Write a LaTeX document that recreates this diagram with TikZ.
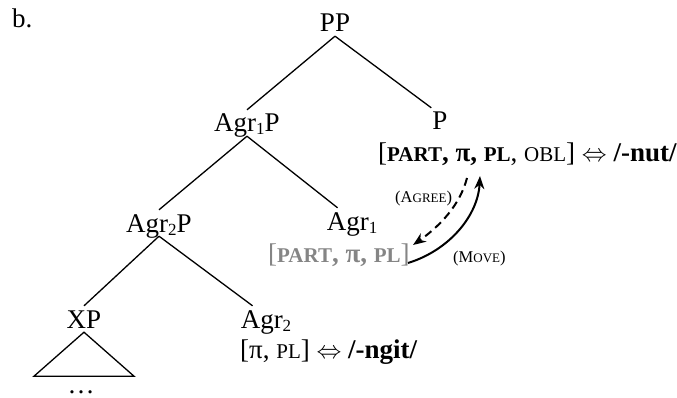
\documentclass[tikz,border=0pt]{standalone}
\usepackage{fontspec}
\setmainfont{Liberation Serif}
\usetikzlibrary{arrows.meta,calc}

% feature letters set as small capitals (reduced capitals)
\newcommand\fsc[1]{{\fontsize{21}{24}\selectfont #1}}
% lowered index on category labels
\newcommand\idx[1]{\raisebox{-3pt}{\fontsize{17}{17}\selectfont #1}}
% operation labels on the arrows: (Agree), (Move)
\newcommand\oplabel[2]{(#1{\fontsize{13}{15}\selectfont #2})}

\begin{document}
\begin{tikzpicture}[x=1pt,y=-1pt,
  cat/.style={font=\fontsize{27}{30}\selectfont, inner xsep=1pt, inner ysep=4pt,
    text height=18pt, text depth=0pt, anchor=base},
  feat/.style={font=\fontsize{27}{30}\selectfont, inner sep=0pt, anchor=base west},
  oplab/.style={font=\fontsize{16.5}{18}\selectfont, inner sep=0pt, anchor=base west},
  edge/.style={line width=1.3pt},
  relation/.style={line width=2pt, -{Stealth[length=13pt,width=10pt]}},
]
\useasboundingbox (0,0) rectangle (677,398);

% example label
\node[cat, anchor=base west, inner sep=0pt] (ex) at (12,28) {b.};

% categories
\node[cat] (PP)  at (335,32)  {PP};
\node[cat] (A1P) at (247,132) {Agr\idx{1}P};
\node[cat] (P)   at (440,130) {P};
\node[cat] (A2P) at (159,232) {Agr\idx{2}P};
\node[cat] (A1)  at (352,230) {Agr\idx{1}};
\node[cat] (XP)  at (84,328)  {XP};
\node[cat] (A2)  at (266,328) {Agr\idx{2}};

% feature bundles and exponents
\node[feat] (fP) at (378,162)
  {[\textbf{\fsc{PART}, π, \fsc{PL}}, \fsc{OBL}] $\Leftrightarrow$ \textbf{/-nut/}};
\node[feat, text=black!48] (fA1) at (268,262)
  {[\textbf{\fsc{PART}, π, \fsc{PL}}]};
\node[feat] (fA2) at (240,358)
  {[π, \fsc{PL}] $\Leftrightarrow$ \textbf{/-ngit/}};

% tree branches
\draw[edge] (PP.south) -- (A1P.north);
\draw[edge] (PP.south) -- (P.north west);
\draw[edge] (A1P.south) -- (A2P.north);
\draw[edge] (A1P.south) -- ($(A1.north west)+(12,0)$);
\draw[edge] (A2P.south) -- (XP.north);
\draw[edge] (A2P.south) -- ($(A2.north west)+(13,0)$);

% unexpanded XP
\draw[edge] (XP.south) -- ($(XP.south)+(-50,44)$) -- ($(XP.south)+(50,44)$) -- cycle;
\node[cat, anchor=base] (dots) at (81,393) {…};

% Agree and Move
\coordinate (agreeFrom) at (467,178);
\coordinate (agreeTo)   at (413,245);
\coordinate (moveFrom)  at (408,263);
\coordinate (moveTo)    at (480,176);
\draw[relation, dash pattern=on 8pt off 5pt]
  (agreeFrom) .. controls (460,205) and (440,226) .. (agreeTo);
\draw[relation]
  (moveFrom) .. controls (450,250) and (478,215) .. (moveTo);

\node[oplab] (agree) at (395,203) {\oplabel{A}{GREE}};
\node[oplab] (move)  at (453,262) {\oplabel{M}{OVE}};
\end{tikzpicture}
\end{document}
